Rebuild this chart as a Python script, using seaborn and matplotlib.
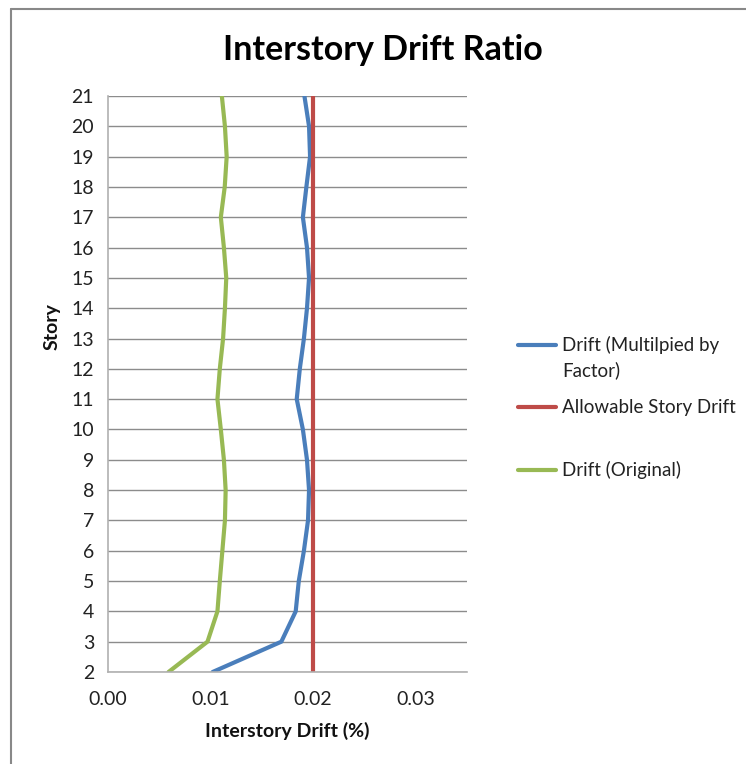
import matplotlib
matplotlib.use("Agg")
import matplotlib.pyplot as plt
import seaborn as sns
import pandas as pd
from matplotlib.lines import Line2D

stories = [2, 3, 4, 5, 6, 7, 8, 9, 10, 11, 12, 13, 14, 15, 16, 17, 18, 19, 20, 21]
drift_factored = [0.0102, 0.0169, 0.0183, 0.0186, 0.0191, 0.0195, 0.0196, 0.0194, 0.0190, 0.0184,
                  0.0187, 0.0191, 0.0194, 0.0196, 0.0194, 0.0190, 0.01934, 0.0197, 0.0196, 0.01915]
allowable = [0.02] * len(stories)
drift_original = [0.0059, 0.0097, 0.01067, 0.0109, 0.01115, 0.0114, 0.01147, 0.0113, 0.0110, 0.01067,
                  0.0109, 0.01122, 0.0114, 0.01153, 0.0113, 0.0110, 0.01138, 0.01157, 0.0114, 0.0111]
series_names = ["Drift (Multilpied by Factor)", "Allowable Story Drift", "Drift (Original)"]
legend_first_lines = ["Drift (Multilpied by", "Allowable Story Drift", "Drift (Original)"]
legend_wrap_line = "Factor)"
series_colors = ["#4A7EBB", "#BE4B48", "#98B954"]
x_ticks = [0.00, 0.01, 0.02, 0.03]

df = pd.concat([
    pd.DataFrame({"story": stories, "drift": drift_factored, "series": series_names[0]}),
    pd.DataFrame({"story": stories, "drift": allowable, "series": series_names[1]}),
    pd.DataFrame({"story": stories, "drift": drift_original, "series": series_names[2]}),
])

sns.set_theme(style="white")
plt.rcParams["font.family"] = ["Lato", "DejaVu Sans"]

fig = plt.figure(figsize=(7.46, 7.64), dpi=100)
ax = fig.add_axes([108 / 746, 1 - 672 / 764, (467 - 108) / 746, (672 - 96) / 764])

sns.lineplot(data=df, x="drift", y="story", hue="series", hue_order=series_names,
             palette=series_colors, orient="y", linewidth=3, ax=ax, legend=False)

ax.set_xlim(0, 0.035)
ax.set_ylim(2, 21)
ax.set_xticks(x_ticks)
ax.set_xticklabels([f"{t:.2f}" for t in x_ticks])
ax.set_yticks(stories)
ax.set_yticklabels([str(s) for s in stories])
ax.tick_params(axis="x", length=0, pad=14, labelsize=14, colors="#222222")
ax.tick_params(axis="y", length=4, width=1, color="#AAAAAA", pad=6, labelsize=14, labelcolor="#222222")
ax.grid(axis="y", color="#8C8C8C", linewidth=1)
ax.grid(axis="x", visible=False)
for s in ["top", "right"]:
    ax.spines[s].set_visible(False)
for s in ["left", "bottom"]:
    ax.spines[s].set_color("#B0B0B0")
    ax.spines[s].set_linewidth(1.2)
ax.set_axisbelow(True)

ax.set_xlabel("Interstory Drift (%)", fontsize=14, fontweight="bold", labelpad=10, color="#111111")
ax.set_ylabel("Story", fontsize=14, fontweight="bold", labelpad=12, color="#111111")
ax.yaxis.set_label_coords(-0.132, (672 - 327) / 576)

fig.text(383 / 746, 1 - 50 / 764, "Interstory Drift Ratio", ha="center", va="center",
         fontsize=24.5, fontweight="bold", color="#000000")

handles = [Line2D([0], [0], color=c, linewidth=3) for c in series_colors]
leg = fig.legend(handles, legend_first_lines, loc="upper left", bbox_to_anchor=(518 / 746, 1 - 336 / 764),
                 frameon=False, fontsize=13.5, handlelength=2.0, handletextpad=0.35, labelspacing=2.4,
                 borderaxespad=0, borderpad=0)
fig.text(562 / 746, 1 - 370 / 764, legend_wrap_line, ha="left", va="center", fontsize=13.5,
         color="#222222")
for t in leg.get_texts():
    t.set_color("#222222")

# chart border (left and top edges visible)
fig.add_artist(Line2D([11 / 746, 11 / 746], [0, 1 - 9 / 764], transform=fig.transFigure,
                      color="#888888", linewidth=1.5))
fig.add_artist(Line2D([11 / 746, 1], [1 - 9 / 764, 1 - 9 / 764], transform=fig.transFigure,
                      color="#888888", linewidth=1.5))

fig.savefig("out.png", dpi=100)
